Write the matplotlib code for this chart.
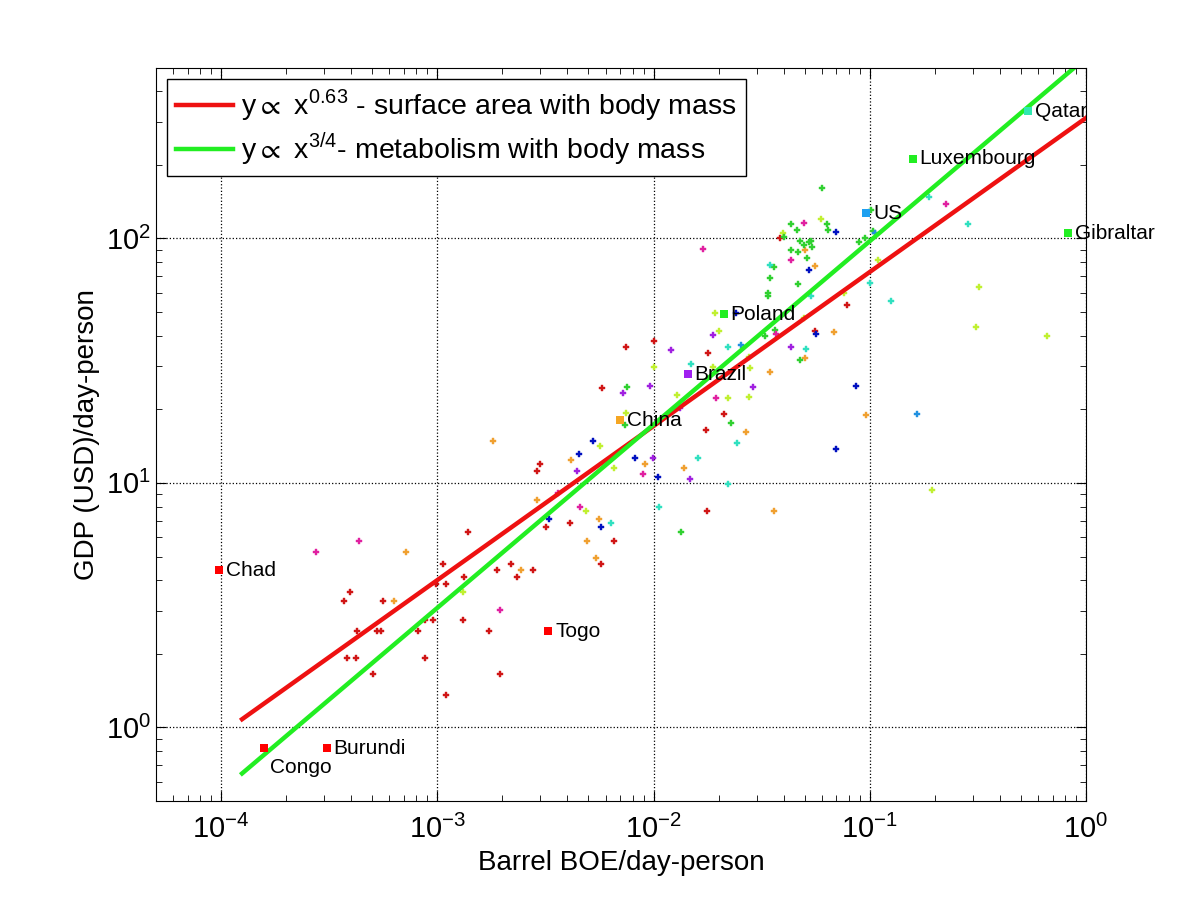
import matplotlib
matplotlib.use('Agg')
import matplotlib.pyplot as plt

plt.rcParams['font.family'] = ['Liberation Sans', 'DejaVu Sans']
plt.rcParams['mathtext.fontset'] = 'custom'
plt.rcParams['mathtext.rm'] = 'Liberation Sans'
plt.rcParams['mathtext.fallback'] = 'stixsans'

# small country dots, grouped by colour
red_x = [1.06e-3, 1.38e-3, 3.19e-3, 3.94e-4, 3.69e-4, 5.58e-4, 1.10e-3, 9.9e-4, 1.33e-3, 2.20e-3,
         1.89e-3, 2.78e-3, 2.34e-3, 8.81e-4, 9.5e-4, 1.31e-3, 4.24e-4, 5.24e-4, 5.47e-4, 8.11e-4,
         1.74e-3, 3.81e-4, 4.20e-4, 8.73e-4, 5.02e-4, 1.94e-3, 1.10e-3, 2.99e-3, 2.90e-3, 4.11e-3,
         6.56e-3, 5.71e-3, 0.0176, 7.45e-3, 0.0100, 0.0178, 5.78e-3, 0.0174, 0.0211, 0.0386,
         0.0787, 0.0560]
red_y = [4.64, 6.28, 6.58, 3.57, 3.28, 3.28, 3.85, 3.85, 4.11, 4.64,
         4.39, 4.39, 4.11, 2.74, 2.74, 2.74, 2.47, 2.47, 2.47, 2.47,
         2.47, 1.92, 1.92, 1.92, 1.65, 1.65, 1.36, 12.0, 11.2, 6.83,
         5.77, 4.64, 7.64, 35.8, 37.9, 33.9, 24.4, 16.4, 19.1, 100,
         53.2, 41.7]

orange_x = [7.13e-4, 6.28e-4, 2.44e-3, 1.80e-3, 4.16e-3, 9.12e-3, 0.0139, 2.90e-3, 5.60e-3, 4.92e-3,
            5.42e-3, 0.0359, 0.0267, 0.0347, 0.0504, 0.0686, 0.0504, 0.0560, 0.0962]
orange_y = [5.20, 3.28, 4.39, 14.8, 12.4, 12.0, 11.5, 8.48, 7.09, 5.77,
            4.91, 7.64, 16.1, 28.3, 32.3, 41.3, 89.3, 76.8, 18.9]

yg_x = [1.32e-3, 5.65e-3, 6.56e-3, 4.88e-3, 0.0100, 0.0129, 7.45e-3, 0.0222, 0.0275, 0.0275,
        0.0278, 0.0188, 0.0192, 0.0200, 0.0499, 0.0399, 0.0597, 0.0762, 0.109, 0.319,
        0.310, 0.658, 0.194]
yg_y = [3.57, 14.2, 11.5, 7.64, 29.7, 22.8, 19.4, 22.2, 22.4, 32.6,
        29.4, 29.7, 49.3, 41.7, 47.1, 105, 120, 59.6, 81.3, 63.1,
        43.6, 39.7, 9.31]

green_x = [7.53e-3, 7.38e-3, 0.0227, 0.0134, 0.0478, 0.0326, 0.0366, 0.0337, 0.0340, 0.0347,
           0.0468, 0.0362, 0.0514, 0.0468, 0.0434, 0.0542, 0.0499, 0.0526, 0.0537, 0.0478,
           0.0403, 0.0463, 0.0643, 0.0434, 0.0636, 0.0604, 0.0893, 0.0953, 0.104, 0.101]
green_y = [24.6, 17.2, 17.5, 6.28, 31.7, 39.7, 42.1, 57.9, 59.6, 68.6,
           64.8, 76.1, 82.8, 87.7, 89.3, 91.8, 93.6, 96.3, 97.3, 98,
           101, 108, 108, 114, 115, 160, 96.3, 100, 107, 131]

cyan_x = [0.0160, 0.0106, 6.35e-3, 0.0220, 0.0242, 0.0149, 0.0222, 0.0509, 0.0537, 0.0344,
          0.100, 0.126, 0.284, 0.188]
cyan_y = [12.6, 7.94, 6.83, 9.86, 14.5, 30.5, 35.8, 35.2, 57.9, 77.6,
          65.5, 55.7, 115, 147]

ltblue_x = [0.0253, 0.106, 0.165]
ltblue_y = [36.8, 105, 19.1]

blue_x = [5.25e-3, 4.53e-3, 8.2e-3, 0.0105, 3.29e-3, 5.71e-3, 0.0240, 0.0566, 0.0526, 0.0700,
          0.0865, 0.0700]
blue_y = [14.8, 13.1, 12.6, 10.6, 7.09, 6.58, 49.3, 40.8, 74.6, 106,
          24.8, 13.7]

purple_x = [4.43e-3, 9.93e-3, 0.0147, 7.22e-3, 9.6e-3, 0.0132, 0.0120, 0.0188, 0.0287, 0.0430]
purple_y = [11.2, 12.6, 10.4, 23.4, 25.0, 20.2, 34.8, 40.1, 24.6, 35.8]

magenta_x = [2.74e-4, 4.33e-4, 1.94e-3, 3.62e-3, 8.93e-3, 4.57e-3, 0.0194, 0.0370, 0.0434, 0.0499,
             0.0169, 0.225]
magenta_y = [5.20, 5.77, 3.01, 9.06, 10.9, 7.94, 22.2, 40.5, 81.3, 116,
             90.2, 138]

# labelled countries
names = ['Chad', 'Congo', 'Burundi', 'Togo', 'China', 'Brazil', 'Poland', 'US',
         'Luxembourg', 'Qatar', 'Gibraltar']
names_x = [9.8e-5, 1.58e-4, 3.08e-4, 3.26e-3, 7.0e-3, 0.0144, 0.0211, 0.0962, 0.158, 0.537, 0.822]
names_y = [4.39, 0.82, 0.82, 2.47, 18.0, 27.8, 48.9, 127, 212, 331, 105]
names_c = ['#ff0000', '#ff0000', '#ff0000', '#ff0000', '#f5a623', '#a020f0', '#22ee22',
           '#1ea0f0', '#22ee22', '#30e8b0', '#22ee22']

# power law reference lines (end points)
fit_x = [1.25e-4, 1.0]
fit_red = [1.08, 311]
fit_green = [0.648, 548]

groups = [(red_x, red_y, '#d01515'), (orange_x, orange_y, '#f0a030'),
          (yg_x, yg_y, '#c0f030'), (green_x, green_y, '#30d030'),
          (cyan_x, cyan_y, '#30e0c0'), (ltblue_x, ltblue_y, '#2090e0'),
          (blue_x, blue_y, '#0010c0'), (purple_x, purple_y, '#a020e0'),
          (magenta_x, magenta_y, '#e020a0')]

fig = plt.figure(figsize=(12, 9), dpi=100)
ax = fig.add_axes([0.13, 0.11, 0.775, 0.815])

for gx, gy, c in groups:
    ax.plot(gx, gy, 'P', color=c, ms=4.3, mew=0.3, ls='none')

l1, = ax.plot(fit_x, fit_red, '-', color='#ee1111', lw=3.2)
l2, = ax.plot(fit_x, fit_green, '-', color='#22ee22', lw=3.2)

for n, x, y, c in zip(names, names_x, names_y, names_c):
    ax.plot(x, y, 's', color=c, ms=6, mew=0)
    if n == 'Congo':
        ax.annotate(n, (x, y), xytext=(4, -14), textcoords='offset points',
                    ha='left', va='center', fontsize=15)
    else:
        ax.annotate(n, (x, y), xytext=(5, 0), textcoords='offset points',
                    ha='left', va='center', fontsize=15)

ax.set_xscale('log')
ax.set_yscale('log')
ax.set_xlim(5e-5, 1)
ax.set_ylim(0.5, 500)

ax.grid(True, which='major', ls=':', color='black', lw=0.9)
ax.tick_params(which='both', direction='in', top=True, right=True, labelsize=21)
ax.tick_params(which='major', length=7)
ax.tick_params(which='minor', length=4)
ax.tick_params(axis='x', pad=10)

ax.set_xlabel('Barrel BOE/day-person', fontsize=20)
ax.set_ylabel('GDP (USD)/day-person', fontsize=20)

leg = ax.legend([l1, l2],
                ['y${\\propto}$ x$^{\\mathdefault{0.63}}$ - surface area with body mass',
                 'y${\\propto}$ x$^{\\mathdefault{3/4}}$- metabolism with body mass'],
                loc='upper left', fontsize=20.5, fancybox=False, framealpha=1,
                edgecolor='black', borderaxespad=0.4, handlelength=2.0,
                handletextpad=0.3, labelspacing=0.25, borderpad=0.3)
leg.get_frame().set_linewidth(1.0)

fig.savefig('out.png', dpi=100)
